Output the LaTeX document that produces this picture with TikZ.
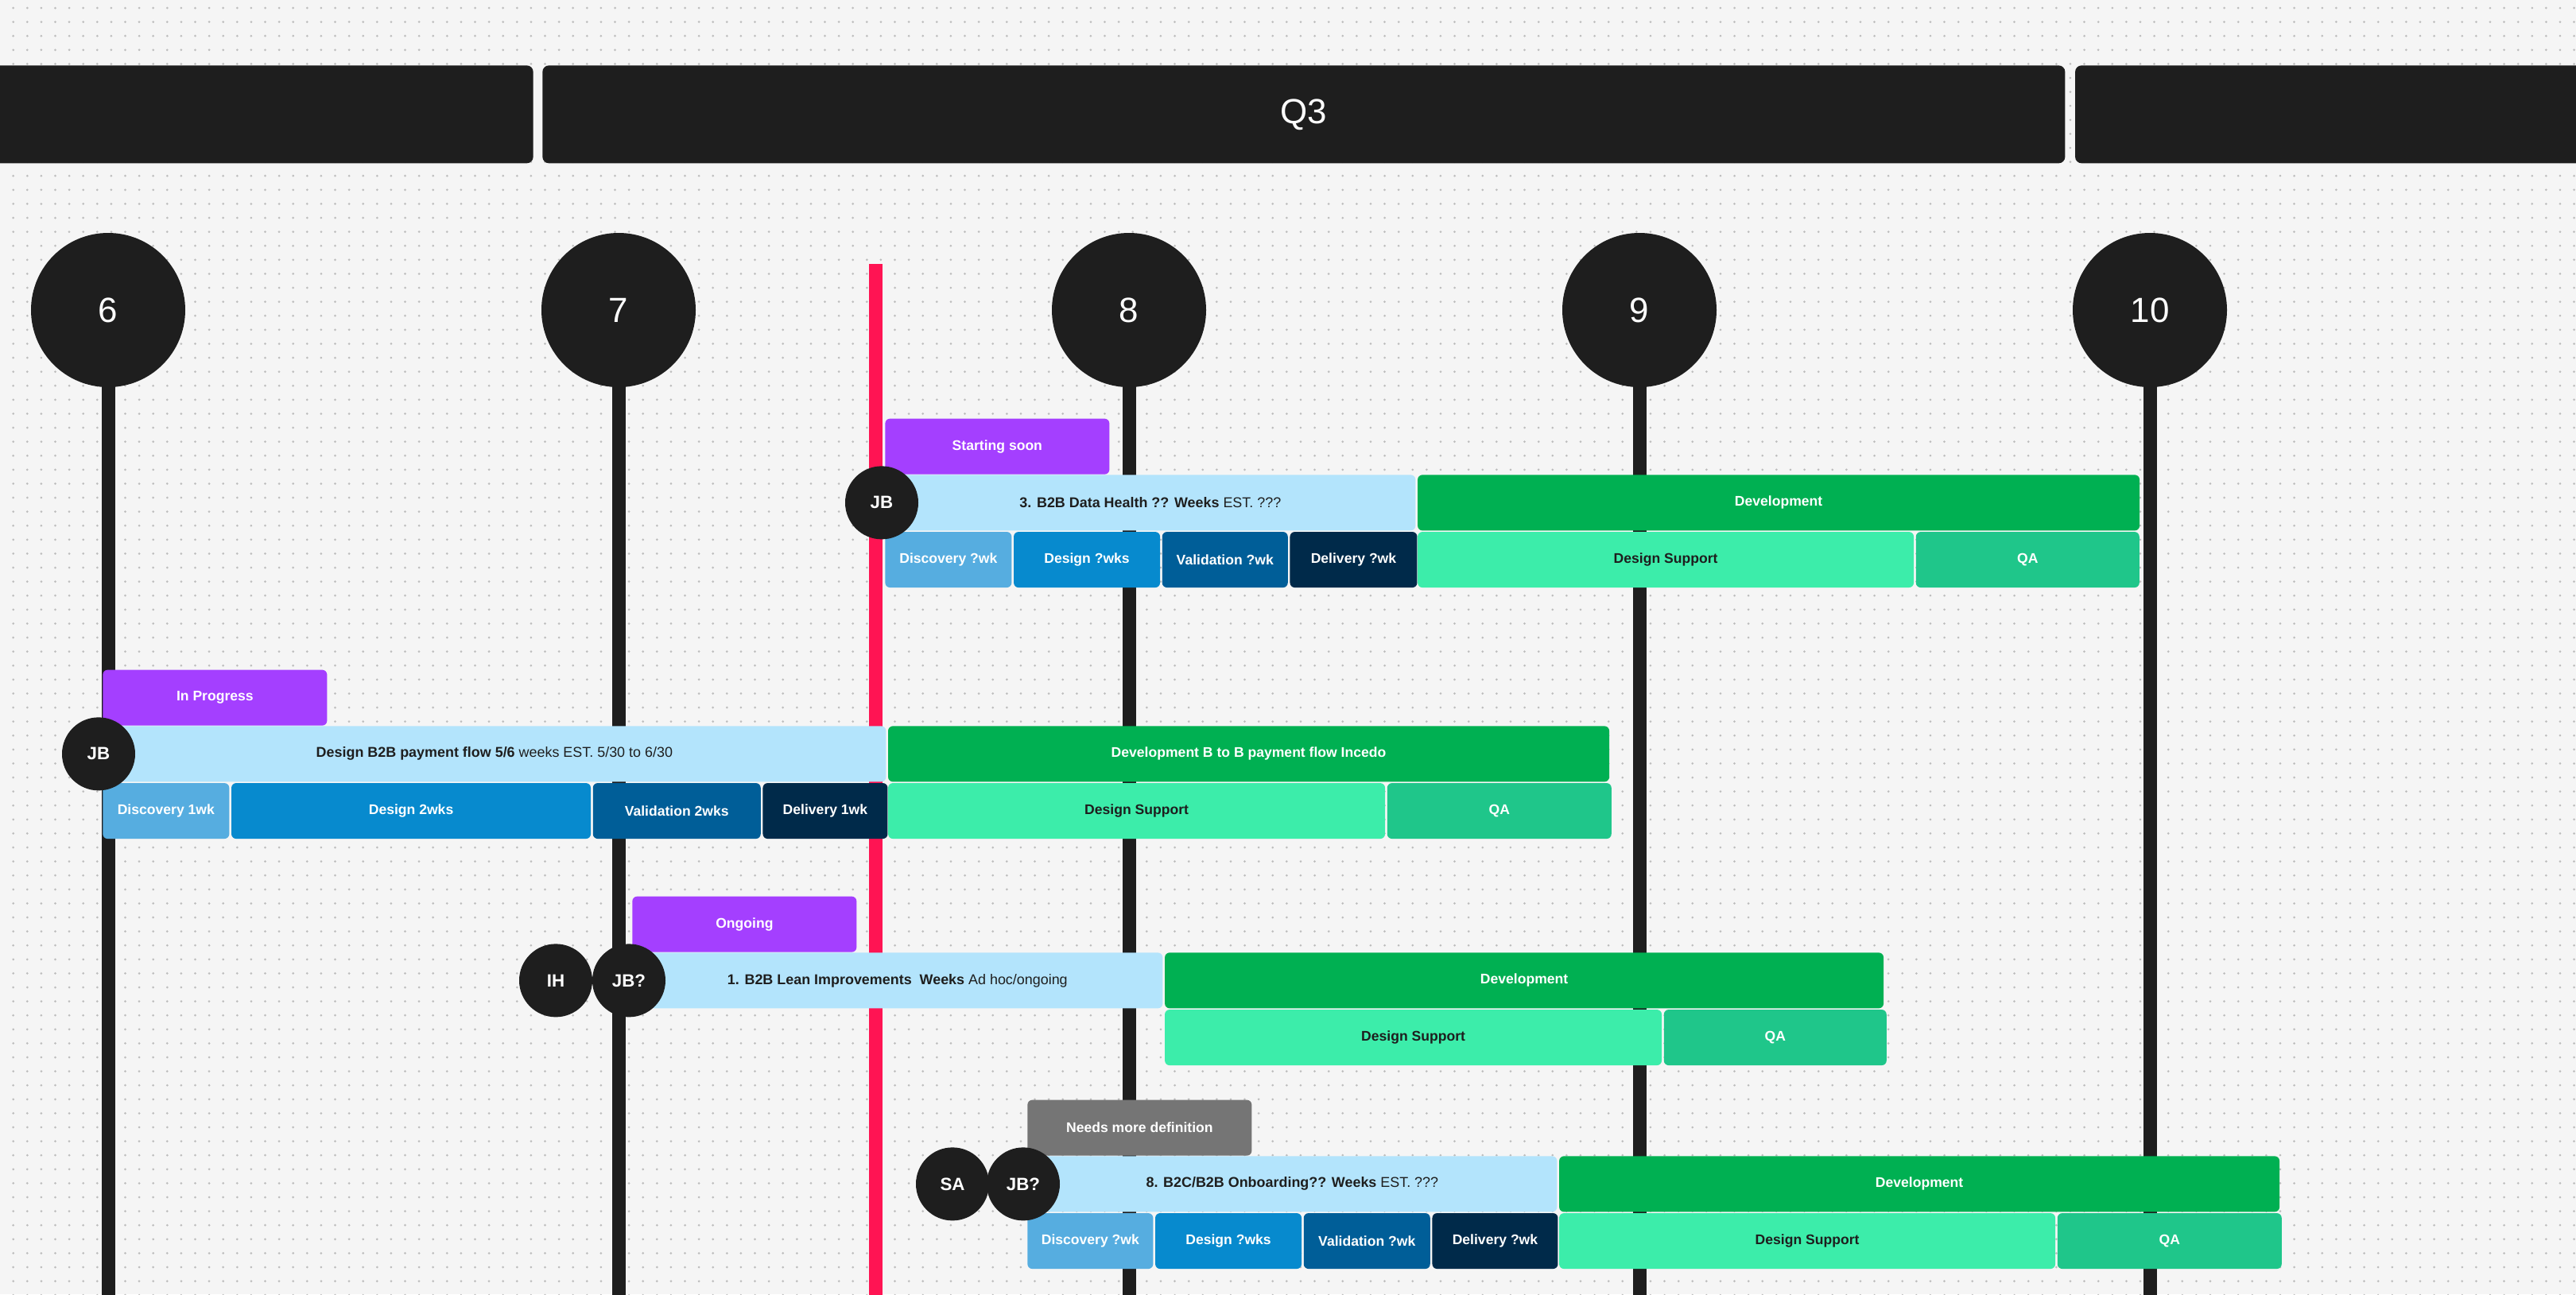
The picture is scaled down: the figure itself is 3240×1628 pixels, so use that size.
\documentclass[tikz,border=0pt]{standalone}
\usepackage{fontspec}
\setmainfont{Liberation Sans}
\usetikzlibrary{positioning}
\definecolor{canvas colour}{HTML}{F5F5F5}
\definecolor{dot colour}{HTML}{BDBDBD}
\definecolor{ink colour}{HTML}{1E1E1E}
\definecolor{today colour}{HTML}{FF1453}
\definecolor{active colour}{HTML}{A43FFF}
\definecolor{vague colour}{HTML}{757575}
\definecolor{plan colour}{HTML}{B3E4FC}
\definecolor{discovery colour}{HTML}{56ADE0}
\definecolor{design colour}{HTML}{078ACE}
\definecolor{validation colour}{HTML}{005E98}
\definecolor{delivery colour}{HTML}{002A4A}
\definecolor{dev colour}{HTML}{00B052}
\definecolor{support colour}{HTML}{3CEDAA}
\definecolor{qa colour}{HTML}{1FC68A}
\tikzset{
    % Fills for the phases of a project
    active fill/.style={fill=active colour},
    vague fill/.style={fill=vague colour},
    plan fill/.style={fill=plan colour},
    discovery fill/.style={fill=discovery colour},
    design fill/.style={fill=design colour},
    validation fill/.style={fill=validation colour},
    delivery fill/.style={fill=delivery colour},
    dev fill/.style={fill=dev colour},
    support fill/.style={fill=support colour},
    qa fill/.style={fill=qa colour},
%
    % Widths are measured in screen pixels
    wide/.style={minimum width=#1*0.2mm},
    every node/.style={align=center},
}
\pgfdeclarelayer{canvas}
\pgfdeclarelayer{background}
\pgfsetlayers{canvas,background,main}

\begin{document}
\begin{tikzpicture}[
    x=0.2mm, y=-0.2mm,
    small text/.style={font=\fontsize{10.2}{12}\selectfont},
    big text/.style={font=\fontsize{25}{30}\selectfont},
    bar/.style={rounded corners=1.2mm, inner sep=0pt, minimum height=14mm,
        small text, text=white},
    plan bar/.style={bar, plan fill, text=ink colour},
    dev bar/.style={bar, dev fill, font=\fontsize{10}{12}\selectfont\bfseries},
    phase/.style={bar, font=\fontsize{10}{12}\selectfont\bfseries},
    support bar/.style={phase, support fill, text=ink colour},
    tag/.style={phase, wide=282},
    person/.style={circle, fill=ink colour, text=white, minimum size=18.4mm,
        inner sep=0pt, font=\fontsize{12.7}{15}\selectfont\bfseries},
    week/.style={circle, fill=ink colour, text=white, minimum size=38.8mm,
        inner sep=0pt, big text},
    quarter/.style={fill=ink colour, text=white, rounded corners=1.6mm,
        minimum height=24.6mm, inner sep=0pt, big text},
    week line/.style={ink colour, line width=3.4mm},
    today line/.style={today colour, line width=3.4mm},
    dot grid/.style={dot colour, line width=0.6mm, line cap=round,
        dash pattern=on 0pt off 3.52mm},
]
\useasboundingbox (0,0) rectangle (3240,1628);

\begin{pgfonlayer}{canvas}
\fill [canvas colour] (0,0) rectangle (3240,1628);
\foreach \j in {0,...,92}
    \draw [dot grid] (16.7,{10+17.6*\j}) -- (3240,{10+17.6*\j});
\end{pgfonlayer}

% quarters
\path (682,82) node [quarter, wide=1915, anchor=north west] (q3) {Q3};
\node [quarter, wide=720, left=2.2mm of q3] (q2) {};
\node [quarter, wide=720, right=2.4mm of q3] (q4) {};

% weeks
\foreach \wk [count=\i from 0] in {6,...,10}
    \node [week] (w\wk) at (136+642*\i,390) {\wk};
\coordinate (bottom) at (0,1640);
\coordinate (today) at (1101,332);

\begin{pgfonlayer}{background}
\foreach \wk in {6,...,10}
    \draw [week line] (w\wk.center) -- (w\wk |- bottom);
\draw [today line] (today) -- (today |- bottom);
\end{pgfonlayer}

% 3. B2B data health
\path (1113,597) node [plan bar, wide=667, anchor=north west] (health)
    {\textbf{3. B2B Data Health ?? Weeks} EST. ???};
\node [dev bar, wide=908, right=0.4mm of health] (health dev) {Development};
\node [tag, active fill, anchor=south west] (health tag) at (health.north west) {Starting soon};
\node [phase, discovery fill, wide=159, anchor=north west] (health disc)
    at ([yshift=-0.2mm]health.south west) {Discovery ?wk};
\node [phase, design fill, wide=184, right=0.4mm of health disc] (health design) {Design ?wks};
\node [phase, validation fill, wide=158, right=0.4mm of health design] (health valid) {Validation ?wk};
\node [phase, delivery fill, wide=160, right=0.4mm of health valid] (health deliv) {Delivery ?wk};
\node [support bar, wide=624, anchor=north west] (health support)
    at ([yshift=-0.2mm]health dev.south west) {Design Support};
\node [phase, qa fill, wide=281, right=0.4mm of health support] (health qa) {QA};
\node [person] (health jb) at ([xshift=-0.8mm]health.west) {JB};

% B2B payment flow
\path (129,913) node [plan bar, wide=985, anchor=north west] (payment)
    {\textbf{Design B2B payment flow 5/6} weeks EST. 5/30 to 6/30};
\node [dev bar, wide=907, right=0.4mm of payment] (payment dev) {Development B to B payment flow Incedo};
\node [tag, active fill, anchor=south west] (payment tag) at (payment.north west) {In Progress};
\node [phase, discovery fill, wide=159, anchor=north west] (payment disc)
    at ([yshift=-0.2mm]payment.south west) {Discovery 1wk};
\node [phase, design fill, wide=452, right=0.4mm of payment disc] (payment design) {Design 2wks};
\node [phase, validation fill, wide=211, right=0.4mm of payment design] (payment valid) {Validation 2wks};
\node [phase, delivery fill, wide=157, right=0.4mm of payment valid] (payment deliv) {Delivery 1wk};
\node [support bar, wide=625, anchor=north west] (payment support)
    at ([yshift=-0.2mm]payment dev.south west) {Design Support};
\node [phase, qa fill, wide=282, right=0.4mm of payment support] (payment qa) {QA};
\node [person] (payment jb) at ([xshift=-1mm]payment.west) {JB};

% 1. B2B lean improvements
\path (795,1198) node [plan bar, wide=667, anchor=north west] (lean)
    {\textbf{1. B2B Lean Improvements~ Weeks} Ad hoc/ongoing};
\node [dev bar, wide=904, right=0.4mm of lean] (lean dev) {Development};
\node [tag, active fill, anchor=south west] (lean tag) at (lean.north west) {Ongoing};
\node [support bar, wide=625, anchor=north west] (lean support)
    at ([yshift=-0.2mm]lean dev.south west) {Design Support};
\node [phase, qa fill, wide=280, right=0.4mm of lean support] (lean qa) {QA};
\node [person] (lean ih) at ([xshift=-19.2mm]lean.west) {IH};
\node [person] (lean jb) at ([xshift=-0.8mm]lean.west) {JB?};

% 8. B2C/B2B onboarding
\path (1292,1454) node [plan bar, wide=666, anchor=north west] (onboard)
    {\textbf{8. B2C/B2B Onboarding?? Weeks} EST. ???};
\node [dev bar, wide=906, right=0.4mm of onboard] (onboard dev) {Development};
\node [tag, vague fill, anchor=south west] (onboard tag) at (onboard.north west) {Needs more definition};
\node [phase, discovery fill, wide=158, anchor=north west] (onboard disc)
    at ([yshift=-0.2mm]onboard.south west) {Discovery ?wk};
\node [phase, design fill, wide=184, right=0.4mm of onboard disc] (onboard design) {Design ?wks};
\node [phase, validation fill, wide=159, right=0.4mm of onboard design] (onboard valid) {Validation ?wk};
\node [phase, delivery fill, wide=158, right=0.4mm of onboard valid] (onboard deliv) {Delivery ?wk};
\node [support bar, wide=624, anchor=north west] (onboard support)
    at ([yshift=-0.2mm]onboard dev.south west) {Design Support};
\node [phase, qa fill, wide=282, right=0.4mm of onboard support] (onboard qa) {QA};
\node [person] (onboard sa) at ([xshift=-18.8mm]onboard.west) {SA};
\node [person] (onboard jb) at ([xshift=-1mm]onboard.west) {JB?};

\end{tikzpicture}
\end{document}
